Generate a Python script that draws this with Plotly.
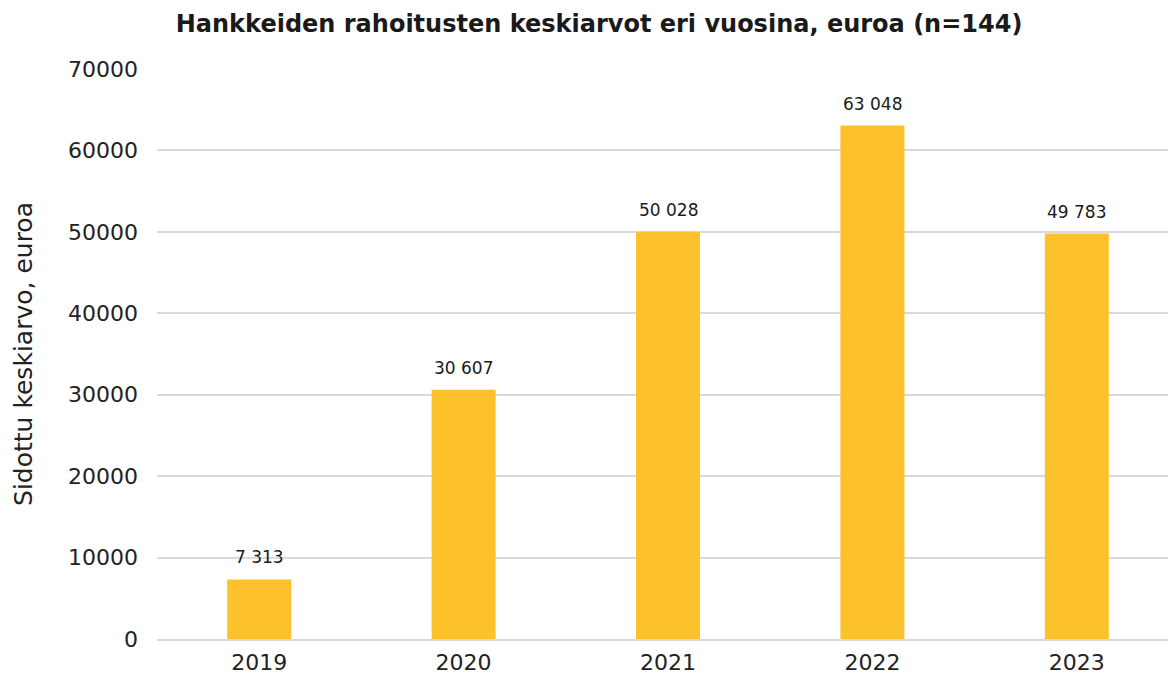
import plotly.graph_objects as go

years = ["2019", "2020", "2021", "2022", "2023"]
values = [7313, 30607, 50028, 63048, 49783]
labels = [f"{v:,}".replace(",", " ") for v in values]

title_text = "Hankkeiden rahoitusten keskiarvot eri vuosina, euroa (n=144)"
y_title = "Sidottu keskiarvo, euroa"
FONT = "DejaVu Sans"

fig = go.Figure(go.Bar(
    x=years, y=values,
    marker=dict(color="#FDC22B", line=dict(width=0)),
))

for i, (v, lab) in enumerate(zip(values, labels)):
    fig.add_annotation(x=i, y=v, text=lab, showarrow=False, yanchor="bottom",
                       yshift=10, font=dict(size=17, color="#1a1a1a", family=FONT))

fig.update_layout(
    width=1176, height=674,
    paper_bgcolor="white", plot_bgcolor="white",
    margin=dict(l=149, r=5, t=61, b=43),
    bargap=0.687,
    font=dict(family=FONT, color="#222222"),
    title=dict(text=title_text, x=0.5026, xanchor="center", y=1 - 16 / 674, yanchor="middle",
               font=dict(size=24, color="#1a1a1a", family=FONT, weight="bold")),
    showlegend=False,
)
fig.update_yaxes(range=[0, 70000], dtick=10000, tickformat="d", automargin=False,
                 showgrid=True, gridcolor="#D9D9D9", gridwidth=2,
                 zeroline=False, showline=False,
                 tickfont=dict(size=22, color="#222222"),
                 ticklabelstandoff=18,
                 title=dict(text=y_title, font=dict(size=25, color="#222222"), standoff=28))
fig.update_xaxes(type="category", showline=True, linecolor="#D9D9D9", linewidth=2, automargin=False,
                 tickfont=dict(size=22, color="#222222"), ticklabelstandoff=3)

fig.write_html("out.html")
